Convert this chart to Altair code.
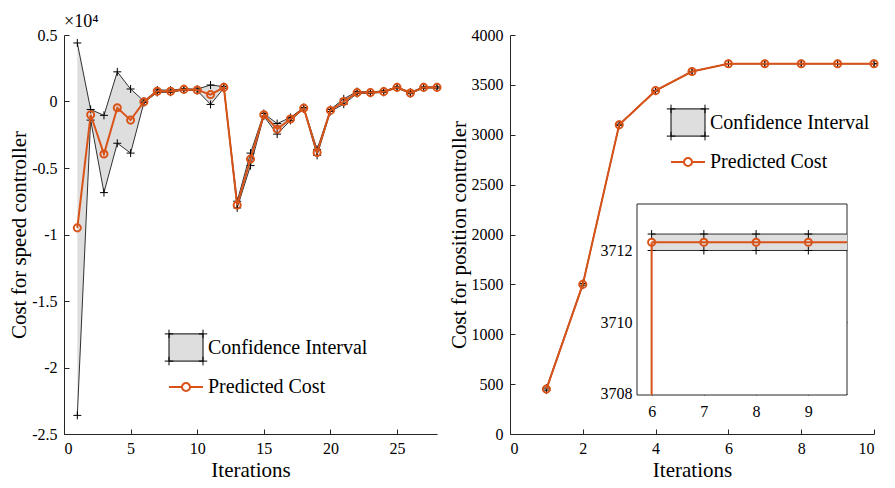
import altair as alt
import pandas as pd

FONT = "Liberation Serif"
ORANGE = "#D95319"
GRAY = "#DEDEDE"
AXIS_COLOR = "#262626"

# ---------------- data: speed controller (left panel) ----------------
speed_iter = list(range(1, 29))
speed_pred = [-9500, -1000, -3950, -470, -1400, -20, 770, 770, 910, 870,
              520, 1060, -7790, -4330, -990, -2080, -1310, -500, -3830, -670,
              0, 670, 670, 740, 1060, 640, 1060, 1060]
speed_upper = [4400, -600, -1040, 2230, 940, 30, 870, 850, 960, 930,
               1240, 1120, -7500, -3880, -900, -1660, -1200, -450, -3600, -600,
               200, 750, 720, 800, 1100, 700, 1100, 1100]
speed_lower = [-23600, -1400, -6850, -3140, -3880, -80, 680, 700, 860, 820,
               -220, 1000, -8000, -4820, -1100, -2450, -1420, -560, -4050, -750,
               -200, 600, 620, 690, 1010, 590, 1010, 1010]

# ---------------- data: position controller (right panel) ----------------
pos_iter = list(range(1, 11))
pos_pred = [450, 1500, 3100, 3442, 3634, 3712.23, 3712.23, 3712.23, 3712.23, 3712.23]
pos_upper = [460, 1508, 3106, 3446, 3636, 3712.46, 3712.46, 3712.46, 3712.46, 3712.46]
pos_lower = [440, 1492, 3094, 3438, 3632, 3712.0, 3712.0, 3712.0, 3712.0, 3712.0]

legend_items = ["Confidence Interval", "Predicted Cost"]

speed_xticks = [0, 5, 10, 15, 20, 25]
speed_yticks = [5000, 0, -5000, -10000, -15000, -20000, -25000]
pos_xticks = [0, 2, 4, 6, 8, 10]
pos_yticks = [0, 500, 1000, 1500, 2000, 2500, 3000, 3500, 4000]
inset_xticks = [6, 7, 8, 9]
inset_yticks = [3708, 3710, 3712]

# ---------------- layout ----------------
W1, W2, H = 373, 364, 399
INSET_XDOM = [5.72, 9.74]
INSET_YDOM = [3707.96, 3713.3]
INSET_XPX = [127, 337]
INSET_YPX = [360, 169]

PLUS = "M-1,0H1M0,-1V1"
CI_PATH = ("M-1,-0.8H1V0.8H-1Z M-1,-1.05V-0.55 M-1.25,-0.8H-0.75 M1,-1.05V-0.55 "
           "M0.75,-0.8H1.25 M-1,0.55V1.05 M-1.25,0.8H-0.75 M1,0.55V1.05 M0.75,0.8H1.25")
PRED_PATH = ("M-1,0H-0.235 M0.235,0H1 M-0.235,0A0.235,0.235 0 1 1 0.235,0"
             "A0.235,0.235 0 1 1 -0.235,0")


def legend_layer(lx, ly):
    ldf = pd.DataFrame({"item": legend_items})
    lg = alt.Legend(orient="none", legendX=lx, legendY=ly, title=None,
                    labelFont=FONT, labelFontSize=20, labelColor="black",
                    labelOffset=4, symbolSize=1156, rowPadding=1, padding=0,
                    labelLimit=400)
    return alt.Chart(ldf).mark_point(filled=True, opacity=1).encode(
        shape=alt.Shape("item:N", scale=alt.Scale(domain=legend_items, range=[CI_PATH, PRED_PATH]), legend=lg),
        fill=alt.Fill("item:N", scale=alt.Scale(domain=legend_items, range=[GRAY, "transparent"]), legend=lg),
        stroke=alt.Stroke("item:N", scale=alt.Scale(domain=legend_items, range=["black", ORANGE]), legend=lg),
        strokeWidth=alt.StrokeWidth("item:N", scale=alt.Scale(domain=legend_items, range=[1, 2]), legend=lg),
    ).transform_filter("false")


def series_layers(df, xs, ys, band_axes, line_axes, marker_filter=None):
    long = df.melt(id_vars="iter", value_vars=["upper", "lower"], var_name="bound", value_name="cost")
    bx, by = band_axes
    lx, ly = line_axes
    band = alt.Chart(df).mark_area(color=GRAY, opacity=1).encode(
        x=alt.X("iter:Q", scale=xs, axis=bx),
        y=alt.Y("lower:Q", scale=ys, axis=by),
        y2="upper:Q",
    )
    bounds = alt.Chart(long).mark_line(color="black", strokeWidth=0.8).encode(
        x=alt.X("iter:Q", scale=xs, axis=lx),
        y=alt.Y("cost:Q", scale=ys, axis=ly),
        detail="bound:N",
    )
    plus = alt.Chart(long).mark_point(shape=PLUS, filled=False, color="black",
                                      strokeWidth=1, size=64, opacity=1).encode(
        x=alt.X("iter:Q", scale=xs, axis=None),
        y=alt.Y("cost:Q", scale=ys, axis=None),
    )
    pline = alt.Chart(df).mark_line(color=ORANGE, strokeWidth=2).encode(
        x=alt.X("iter:Q", scale=xs, axis=None),
        y=alt.Y("pred:Q", scale=ys, axis=None),
    )
    ppts = alt.Chart(df).mark_point(shape="circle", filled=False, color=ORANGE,
                                    strokeWidth=2, size=50, opacity=1).encode(
        x=alt.X("iter:Q", scale=xs, axis=None),
        y=alt.Y("pred:Q", scale=ys, axis=None),
    )
    if marker_filter is not None:
        plus = plus.transform_filter(marker_filter)
        ppts = ppts.transform_filter(marker_filter)
    return [band, bounds, plus, pline, ppts]


def main_axes(W, xticks, yticks, ytitle, label_expr=None):
    ykw = dict(orient="left", values=yticks, ticks=False, title=ytitle, grid=False,
               labelPadding=7, titlePadding=2, format="d")
    if label_expr:
        ykw["labelExpr"] = label_expr
    label_x = alt.Axis(orient="bottom", values=xticks, ticks=False, title="Iterations",
                       grid=False, labelPadding=6, titlePadding=3, format="d")
    label_y = alt.Axis(**ykw)
    tick_x = alt.Axis(orient="top", offset=-H, values=xticks, labels=False, domain=False,
                      tickSize=5, title=None, grid=False)
    tick_y = alt.Axis(orient="right", offset=-W, values=yticks, labels=False, domain=False,
                      tickSize=5, title=None, grid=False)
    return (tick_x, tick_y), (label_x, label_y)


# ---------------- left panel ----------------
sp = pd.DataFrame({"iter": speed_iter, "pred": speed_pred,
                   "upper": speed_upper, "lower": speed_lower})
xs1 = alt.Scale(domain=[0, 28], nice=False, zero=False)
ys1 = alt.Scale(domain=[-25000, 5000], nice=False, zero=False)
ta, la = main_axes(W1, speed_xticks, speed_yticks, "Cost for speed controller",
                   "datum.value / 10000")
left = alt.layer(
    *series_layers(sp, xs1, ys1, ta, la),
    legend_layer(104, 295),
).resolve_axis(x="independent", y="independent").properties(
    width=W1, height=H,
    title=alt.Title("×10⁴", anchor="start", frame="group", font=FONT, fontSize=18,
                    fontWeight="normal", color="black", offset=-4),
)

# ---------------- right panel ----------------
ps = pd.DataFrame({"iter": pos_iter, "pred": pos_pred,
                   "upper": pos_upper, "lower": pos_lower})
xs2 = alt.Scale(domain=[0, 10], nice=False, zero=False)
ys2 = alt.Scale(domain=[0, 4000], nice=False, zero=False)
ta2, la2 = main_axes(W2, pos_xticks, pos_yticks, "Cost for position controller")
right_main = alt.layer(
    *series_layers(ps, xs2, ys2, ta2, la2),
    legend_layer(160, 70),
).resolve_axis(x="independent", y="independent")

# inset
ins = ps[ps["iter"] >= 6]
ixs = alt.Scale(domain=INSET_XDOM, range=INSET_XPX, clamp=True, nice=False, zero=False)
iys = alt.Scale(domain=INSET_YDOM, range=INSET_YPX, clamp=True, nice=False, zero=False)
ins_lab_x = alt.Axis(orient="bottom", offset=INSET_YPX[0] - H, values=inset_xticks, ticks=False,
                     domain=False, title=None, grid=False, labelPadding=8, format="d")
ins_lab_y = alt.Axis(orient="left", offset=-INSET_XPX[0], values=inset_yticks, ticks=False,
                     domain=False, title=None, grid=False, labelPadding=5, format="d")
ins_tick_xb = alt.Axis(orient="top", offset=-INSET_YPX[0], values=inset_xticks, labels=False,
                       domain=False, tickSize=3, title=None, grid=False)
ins_tick_yl = alt.Axis(orient="right", offset=INSET_XPX[0] - W2, values=inset_yticks, labels=False,
                       domain=False, tickSize=3, title=None, grid=False)
ins_tick_xt = alt.Axis(orient="bottom", offset=INSET_YPX[1] - H, values=inset_xticks, labels=False,
                       domain=False, tickSize=3, title=None, grid=False)
ins_tick_yr = alt.Axis(orient="left", offset=-INSET_XPX[1], values=inset_yticks, labels=False,
                       domain=False, tickSize=3, title=None, grid=False)

box = alt.Chart(pd.DataFrame({"k": [0]})).mark_rect(
    fill="white", stroke=AXIS_COLOR, strokeWidth=1).encode(
    x=alt.X(datum=INSET_XDOM[0], type="quantitative", scale=ixs, axis=ins_tick_xt),
    x2=alt.X2(datum=INSET_XDOM[1]),
    y=alt.Y(datum=INSET_YDOM[1], type="quantitative", scale=iys, axis=ins_tick_yr),
    y2=alt.Y2(datum=INSET_YDOM[0]),
)
ins_layers = series_layers(ins, ixs, iys, (ins_tick_xb, ins_tick_yl), (ins_lab_x, ins_lab_y),
                           marker_filter="datum.iter <= 9")
rise = alt.Chart(ins).mark_rule(color=ORANGE, strokeWidth=2).encode(
    x=alt.X("iter:Q", scale=ixs, axis=None),
    y=alt.Y("pred:Q", scale=iys, axis=None),
    y2=alt.Y2(datum=INSET_YDOM[0]),
).transform_filter("datum.iter == 6")
ins_layers.insert(4, rise)
inset = alt.layer(box, *ins_layers).resolve_axis(x="independent", y="independent")

right = alt.layer(right_main, inset).resolve_scale(
    x="independent", y="independent"
).properties(
    width=W2, height=H,
    title=alt.Title(" ", anchor="start", frame="group", font=FONT, fontSize=18,
                    fontWeight="normal", color="black", offset=-4),
)

chart = alt.hconcat(left, right, spacing=73, bounds="flush").resolve_scale(
    shape="independent", fill="independent", stroke="independent", strokeWidth="independent"
).resolve_legend(
    shape="independent", fill="independent", stroke="independent", strokeWidth="independent"
).properties(
    padding={"left": 0, "top": 5, "right": 0, "bottom": 0}
).configure_view(stroke=None).configure_axis(
    labelFont=FONT, labelFontSize=16, labelColor="black",
    titleFont=FONT, titleFontSize=21, titleFontWeight="normal", titleColor="black",
    domainColor=AXIS_COLOR, domainWidth=1, tickColor=AXIS_COLOR, tickWidth=1,
)

chart.save("out.html", embed_options={"renderer": "svg", "actions": False})
